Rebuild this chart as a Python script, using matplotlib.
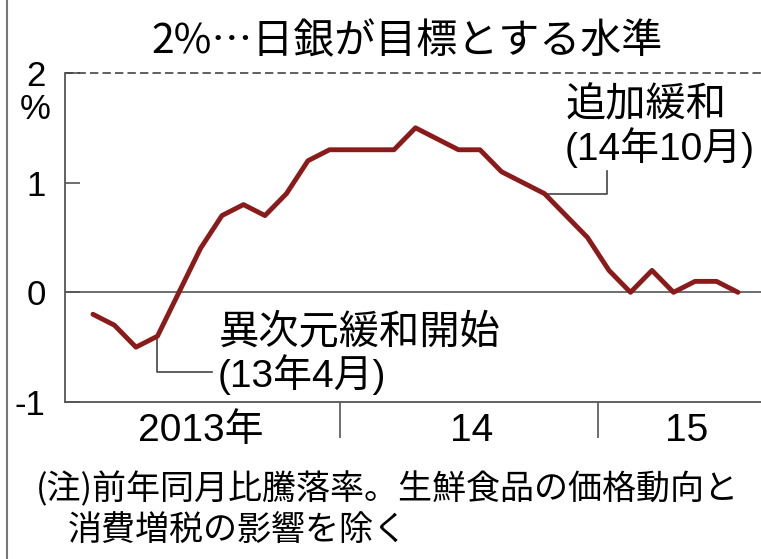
import matplotlib
matplotlib.use("Agg")
import matplotlib.pyplot as plt
from matplotlib.lines import Line2D

# ---- data ----
months = list(range(31))  # Jan 2013 .. Jul 2015
cpi = [-0.2, -0.3, -0.5, -0.4, 0.0, 0.4, 0.7, 0.8, 0.7, 0.9, 1.2, 1.3,
       1.3, 1.3, 1.3, 1.5, 1.4, 1.3, 1.3, 1.1, 1.0, 0.9, 0.7, 0.5,
       0.2, 0.0, 0.2, 0.0, 0.1, 0.1, 0.0]
year_labels = ["2013年", "14", "15"]
year_label_pos = [5.0, 17.6, 27.6]
year_bounds = [11.5, 23.5]
ytick_vals = [-1, 0, 1, 2]
ytick_labels = ["-1", "0", "1", "2"]
target = 2
title = "2%…日銀が目標とする水準"
ann1_idx, ann1_lines = 3, ["異次元緩和開始", "(13年4月)"]
ann2_idx, ann2_lines = 21, ["追加緩和", "(14年10月)"]
note1 = "(注)前年同月比騰落率。生鮮食品の価格動向と"
note2 = "消費増税の影響を除く"

FONT = ["Liberation Sans", "Noto Sans CJK JP", "DejaVu Sans"]
CJK = ["Noto Sans CJK JP", "DejaVu Sans"]
plt.rcParams["font.family"] = FONT

W, H = 761, 559
fig = plt.figure(figsize=(W / 100, H / 100), dpi=100)
fig.patch.set_facecolor("white")

def fx(px):
    return px / W

def fy(py):
    return 1 - py / H

ax = fig.add_axes([fx(65), fy(402), fx(761) - fx(65), fy(73) - fy(402)])
ax.set_xlim(-1.3, 31.07)
ax.set_ylim(-1, 2)

gray = "#444444"
red = "#8B1A1A"

for s in ["top", "right"]:
    ax.spines[s].set_visible(False)
for s in ["left", "bottom"]:
    ax.spines[s].set_color("#555555")
    ax.spines[s].set_linewidth(1.3)

# target dashed line & zero line
ax.axhline(target, color=gray, lw=1.2, ls=(0, (5, 2.5)), clip_on=False)
ax.axhline(0, color="#555555", lw=1.2)

# leader lines
y1 = cpi[ann1_idx]
ax.plot([ann1_idx, ann1_idx, 5.55], [y1, -0.73, -0.73], color=gray, lw=1.2)
y2 = cpi[ann2_idx]
ax.plot([ann2_idx, 23.9, 23.9], [y2, y2, 1.11], color=gray, lw=1.2)

# main line
ax.plot(months, cpi, color=red, lw=3.5, solid_joinstyle="round",
        solid_capstyle="round", zorder=5)

# y ticks
ax.set_yticks(ytick_vals)
ax.set_yticklabels(ytick_labels, fontsize=25)
ax.tick_params(axis="y", direction="in", length=11, width=1.2,
               color="#555555", pad=14)
ax.text(-14 / (W - 65), 1.67, "%", transform=ax.transAxes if False else ax.get_yaxis_transform(),
        ha="right", va="center", fontsize=25)

# x ticks: year boundaries (major), labels (minor)
ax.set_xticks(year_bounds)
ax.set_xticklabels([])
ax.tick_params(axis="x", which="major", direction="out", length=26,
               width=1.2, color="#555555")
ax.set_xticks(year_label_pos, minor=True)
ax.set_xticklabels(year_labels, minor=True, fontsize=28)
ax.tick_params(axis="x", which="minor", length=0, pad=8)

# annotations
ax.text(5.85, -0.36, ann1_lines[0], fontsize=29, family=CJK,
        ha="left", va="center")
ax.text(5.8, -0.75, ann1_lines[1], fontsize=28, ha="left", va="center")
ax.text(22.0, 1.71, ann2_lines[0], fontsize=29, family=CJK,
        ha="left", va="center")
ax.text(21.95, 1.32, ann2_lines[1], fontsize=28, ha="left", va="center")

# title
fig.text(fx(407), fy(42), title, fontsize=29.5, family=CJK,
         ha="center", va="center")

# notes
fig.text(fx(36), fy(490), note1, fontsize=24.5, family=CJK,
         ha="left", va="center")
fig.text(fx(68), fy(530), note2, fontsize=24.5, family=CJK,
         ha="left", va="center")

# left border line
fig.add_artist(Line2D([fx(7), fx(7)], [0, 1], color="#777777", lw=1.5))

fig.savefig("out.png", dpi=100, facecolor="white")
